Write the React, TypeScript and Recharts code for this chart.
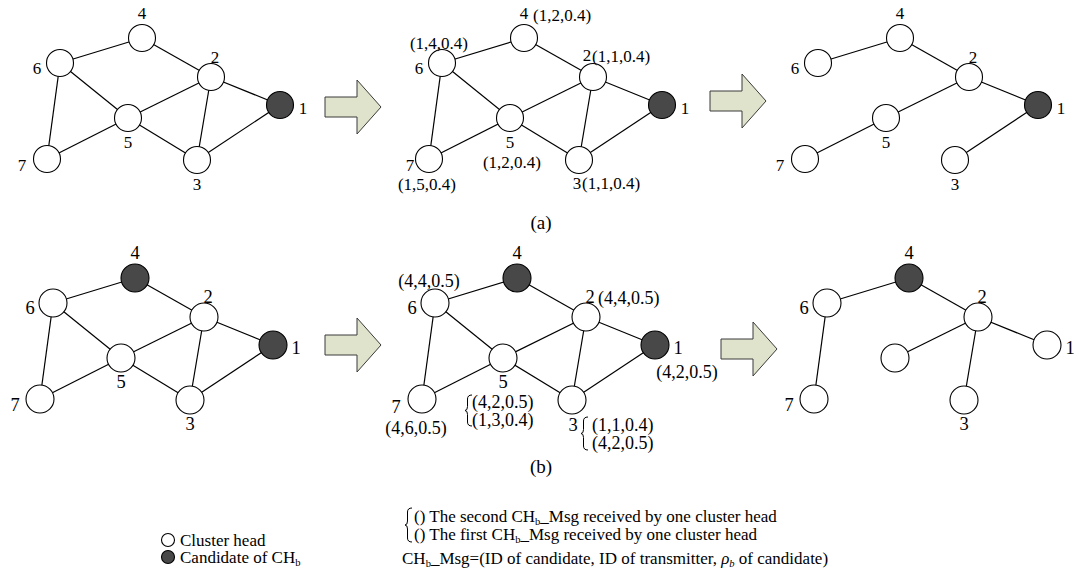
import { Scatter, ScatterChart, XAxis, YAxis } from "recharts";

const W = 1079;
const H = 576;
const SERIF = '"Liberation Serif", "Times New Roman", serif';
const DARK = "#484848";
const ARROW_FILL = "#dfe3cc";

// node layout of the first panel, index = node id - 1
const NODE_X = [280, 211, 197, 142, 128, 60, 47];
const NODE_Y = [105, 77, 160, 38, 118, 63, 159];
// where the id number sits relative to its node
const LABEL_DX = [23, 4, 0, 0, 0, -23, -25];
const LABEL_DY = [3, -20, 24, -25, 24, 5, 6];

const FULL_EDGES = [[6, 4], [4, 2], [2, 1], [6, 5], [6, 7], [5, 2], [5, 7], [5, 3], [2, 3], [3, 1]];
const TREE_A_EDGES = [[6, 4], [4, 2], [2, 1], [2, 5], [5, 7], [1, 3]];
const TREE_B_EDGES = [[4, 6], [4, 2], [6, 7], [2, 5], [2, 3], [2, 1]];

type Panel = {
  dx: number;
  dy: number;
  edges: number[][];
  dark: number[];
  big: boolean;
  hideLabel?: number[];
  labelFix?: Record<number, [number, number]>;
};

const PANELS: Panel[] = [
  { dx: 0, dy: 0, edges: FULL_EDGES, dark: [1], big: false },
  { dx: 382, dy: 0, edges: FULL_EDGES, dark: [1], big: false, labelFix: { 2: [-6, -22], 7: [-19, 6], 3: [-2, 23] } },
  { dx: 758, dy: 0, edges: TREE_A_EDGES, dark: [1], big: false },
  { dx: -7, dy: 240, edges: FULL_EDGES, dark: [1, 4], big: true },
  { dx: 375, dy: 240, edges: FULL_EDGES, dark: [1, 4], big: true, labelFix: { 7: [-26, 8], 3: [1, 25] } },
  { dx: 767, dy: 240, edges: TREE_B_EDGES, dark: [4], big: true, hideLabel: [5] },
];

// CH_b_Msg tuples next to nodes: [panel, node, text, dx, dy, anchor]
const TUPLES: [number, number, string, number, number, string][] = [
  [1, 4, "(1,2,0.4)", 9, -23, "start"],
  [1, 6, "(1,4,0.4)", -3, -20, "middle"],
  [1, 2, "(1,1,0.4)", -1, -21, "start"],
  [1, 5, "(1,2,0.4)", 2, 44, "middle"],
  [1, 7, "(1,5,0.4)", -2, 25, "middle"],
  [1, 3, "(1,1,0.4)", 3, 23, "start"],
  [4, 6, "(4,4,0.5)", -6, -22, "middle"],
  [4, 2, "(4,4,0.5)", 12, -19, "start"],
  [4, 1, "(4,2,0.5)", 32, 27, "middle"],
  [4, 5, "(4,2,0.5)", -31, 44, "start"],
  [4, 5, "(1,3,0.4)", -31, 62, "start"],
  [4, 7, "(4,6,0.5)", -6, 29, "middle"],
  [4, 3, "(1,1,0.4)", 20, 25, "start"],
  [4, 3, "(4,2,0.5)", 20, 43, "start"],
];

// braces grouping two tuples: [panel, node, dx, top, bottom]
const BRACES: [number, number, number, number, number][] = [
  [4, 5, -37, 37, 68],
  [4, 3, 10, 17, 50],
];

// block arrows between panels: left end and vertical centre
const ARROWS = [
  { x: 325, y: 107 },
  { x: 710, y: 101 },
  { x: 325, y: 345 },
  { x: 721, y: 349 },
];

const CAPTIONS = [
  { x: 541, y: 222, text: "(a)" },
  { x: 541, y: 466, text: "(b)" },
];

const LEGEND_NODES = [
  { dark: false, text: "Cluster head" },
  { dark: true, text: "Candidate of CH_{b}" },
];
const LEGEND_NOTES = [
  "() The second CH_{b}_Msg received by one cluster head",
  "() The first CH_{b}_Msg received by one cluster head",
];
const MSG_DEF = "CH_{b}_Msg=(ID of candidate, ID of transmitter, *ρ*_{*b*} of candidate)";

const posOf = (p: Panel, id: number) => ({ x: NODE_X[id - 1] + p.dx, y: NODE_Y[id - 1] + p.dy });

// "_{x}" -> subscript, "*x*" -> italic
function rich(s: string, fs: number) {
  const parts = s.split(/(_\{[^}]*\}|\*[^*]*\*)/).filter(Boolean);
  let shifted = false;
  return parts.map((p, i) => {
    if (p.startsWith("_{")) {
      let inner = p.slice(2, -1);
      const it = inner.startsWith("*");
      if (it) inner = inner.slice(1, -1);
      shifted = true;
      return (
        <tspan key={i} dy={fs * 0.28} fontSize={fs * 0.62} fontStyle={it ? "italic" : undefined}>
          {inner}
        </tspan>
      );
    }
    const it = p.startsWith("*") && p.endsWith("*") && p.length > 1;
    const t = it ? p.slice(1, -1) : p;
    const back = shifted;
    shifted = false;
    return (
      <tspan key={i} dy={back ? -fs * 0.28 : undefined} fontStyle={it ? "italic" : undefined}>
        {t}
      </tspan>
    );
  });
}

const Empty = () => <g />;

const NodeShape = (props: any) => {
  const { cx, cy, payload } = props;
  return (
    <circle cx={cx} cy={cy} r={payload.r} fill={payload.dark ? DARK : "#fff"} stroke="#000" strokeWidth={1.1} />
  );
};

const TextShape = (props: any) => {
  const { cx, cy, payload } = props;
  return (
    <text
      x={cx}
      y={cy}
      textAnchor={payload.anchor || "middle"}
      dominantBaseline="central"
      fontSize={payload.fs}
      fontFamily={SERIF}
      fill="#000"
    >
      {rich(payload.text, payload.fs)}
    </text>
  );
};

const ArrowShape = (props: any) => {
  const { cx, cy } = props;
  const pts = [
    [cx, cy - 10],
    [cx + 32, cy - 10],
    [cx + 32, cy - 27],
    [cx + 56, cy],
    [cx + 32, cy + 27],
    [cx + 32, cy + 10],
    [cx, cy + 10],
  ]
    .map((q) => q.join(","))
    .join(" ");
  return <polygon points={pts} fill={ARROW_FILL} stroke="#3a3a3a" strokeWidth={1} />;
};

const BraceShape = (props: any) => {
  const { cx, cy, payload } = props;
  const t = cy;
  const b = cy + payload.h;
  const m = (t + b) / 2;
  const x = cx + 1.5;
  const d = `M${cx + 6},${t} Q${x},${t} ${x},${t + 4} L${x},${m - 4} Q${x},${m} ${cx - 1},${m} Q${x},${m} ${x},${m + 4} L${x},${b - 4} Q${x},${b} ${cx + 6},${b}`;
  return <path d={d} fill="none" stroke="#000" strokeWidth={1} />;
};

export default function App() {
  const edgeSeries: { key: string; data: { x: number; y: number }[] }[] = [];
  const nodes: any[] = [];
  const texts: any[] = [];
  const braces: any[] = [];

  PANELS.forEach((p, pi) => {
    const r = p.big ? 14 : 13.5;
    const fs = p.big ? 18.5 : 17;
    p.edges.forEach(([a, b], ei) => {
      edgeSeries.push({ key: `e${pi}-${ei}`, data: [posOf(p, a), posOf(p, b)] });
    });
    for (let id = 1; id <= 7; id++) {
      const c = posOf(p, id);
      nodes.push({ ...c, r, dark: p.dark.includes(id) });
      if (p.hideLabel && p.hideLabel.includes(id)) continue;
      const fix = p.labelFix && p.labelFix[id];
      const lx = fix ? fix[0] : LABEL_DX[id - 1];
      const ly = fix ? fix[1] : LABEL_DY[id - 1];
      texts.push({ x: c.x + lx, y: c.y + ly, text: String(id), fs });
    }
  });

  TUPLES.forEach(([pi, id, text, dx, dy, anchor]) => {
    const c = posOf(PANELS[pi], id);
    texts.push({ x: c.x + dx, y: c.y + dy, text, anchor, fs: PANELS[pi].big ? 18 : 17 });
  });

  BRACES.forEach(([pi, id, dx, top, bottom]) => {
    const c = posOf(PANELS[pi], id);
    braces.push({ x: c.x + dx, y: c.y + top, h: bottom - top });
  });
  braces.push({ x: 406, y: 508, h: 34 });

  CAPTIONS.forEach((c) => texts.push({ ...c, fs: 19 }));

  LEGEND_NODES.forEach((l, i) => {
    nodes.push({ x: 168, y: 540 + i * 17, r: 6.5, dark: l.dark });
    texts.push({ x: 180, y: 540 + i * 17, text: l.text, fs: 17, anchor: "start" });
  });
  LEGEND_NOTES.forEach((n, i) => {
    texts.push({ x: 414, y: 516 + i * 18, text: n, fs: 17, anchor: "start" });
  });
  texts.push({ x: 402, y: 558, text: MSG_DEF, fs: 17, anchor: "start" });

  return (
    <div style={{ position: "absolute", left: 0, top: 0, width: W, height: H, background: "#fff" }}>
      <ScatterChart width={W} height={H} margin={{ top: 0, right: 0, bottom: 0, left: 0 }}>
        <XAxis type="number" dataKey="x" domain={[0, W]} hide allowDataOverflow />
        <YAxis type="number" dataKey="y" domain={[0, H]} hide reversed allowDataOverflow />
        {edgeSeries.map((e) => (
          <Scatter
            key={e.key}
            data={e.data}
            line={{ stroke: "#000", strokeWidth: 1.2 }}
            shape={Empty}
            legendType="none"
            isAnimationActive={false}
          />
        ))}
        <Scatter data={ARROWS} shape={ArrowShape} legendType="none" isAnimationActive={false} />
        <Scatter data={nodes} shape={NodeShape} legendType="none" isAnimationActive={false} />
        <Scatter data={braces} shape={BraceShape} legendType="none" isAnimationActive={false} />
        <Scatter data={texts} shape={TextShape} legendType="none" isAnimationActive={false} />
      </ScatterChart>
    </div>
  );
}
